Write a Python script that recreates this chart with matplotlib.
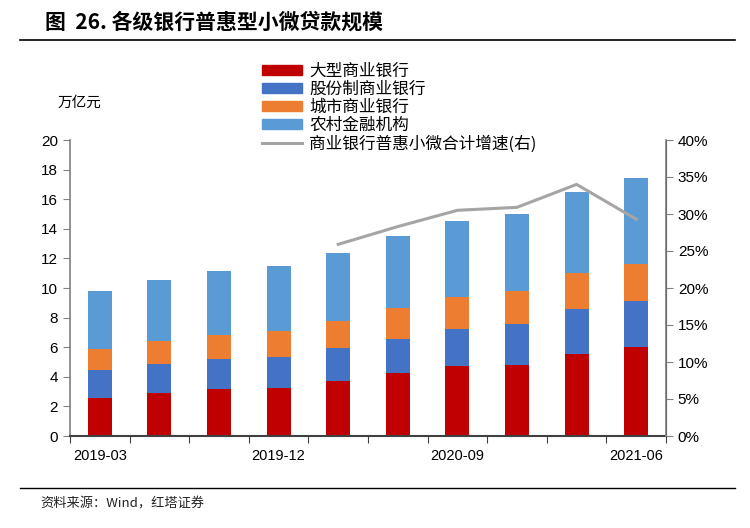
import matplotlib
matplotlib.use("Agg")
import matplotlib.pyplot as plt
import numpy as np
from matplotlib.patches import Patch
from matplotlib.lines import Line2D

plt.rcParams['font.family'] = ['Liberation Sans', 'Noto Sans CJK SC', 'DejaVu Sans']

quarters = ['2019-03', '2019-06', '2019-09', '2019-12', '2020-03', '2020-06',
            '2020-09', '2020-12', '2021-03', '2021-06']
big = [2.57, 2.91, 3.18, 3.24, 3.72, 4.26, 4.71, 4.82, 5.54, 5.99]
joint = [1.89, 1.95, 2.00, 2.10, 2.20, 2.32, 2.50, 2.73, 3.02, 3.11]
city = [1.42, 1.56, 1.67, 1.78, 1.87, 2.05, 2.18, 2.27, 2.45, 2.52]
rural = [3.94, 4.12, 4.30, 4.37, 4.57, 4.88, 5.11, 5.18, 5.50, 5.79]
growth = [None, None, None, None, 25.9, 28.3, 30.5, 30.9, 34.0, 29.3]
labels = ['大型商业银行', '股份制商业银行', '城市商业银行', '农村金融机构',
          '商业银行普惠小微合计增速(右)']
shown_ticks = ['2019-03', '2019-12', '2020-09', '2021-06']

colors = ['#C00000', '#4472C4', '#ED7D31', '#5B9BD5']
line_color = '#A5A5A5'

fig = plt.figure(figsize=(7.5, 5.28), dpi=100)
ax = fig.add_axes([70/750, 1-436/528, (666-70)/750, (436-140)/528])
ax2 = ax.twinx()

x = np.arange(len(quarters))
bottom = np.zeros(len(quarters))
for vals, c in zip([big, joint, city, rural], colors):
    ax.bar(x, vals, width=0.4, bottom=bottom, color=c, zorder=2)
    bottom += np.array(vals)

gx = [i for i, g in enumerate(growth) if g is not None]
gy = [g for g in growth if g is not None]
ax2.plot(gx, gy, color=line_color, linewidth=2.2, zorder=3)

ax.set_xlim(-0.5, len(quarters) - 0.5)
ax.set_ylim(0, 20)
ax.set_yticks(np.arange(0, 21, 2))
ax2.set_ylim(0, 40)
ax2.set_yticks(np.arange(0, 41, 5))
ax2.set_yticklabels([f'{v}%' for v in range(0, 41, 5)])

ax.set_xticks(np.arange(-0.5, len(quarters), 1))
ax.set_xticklabels([])
ax.set_xticks([quarters.index(q) for q in shown_ticks], minor=True)
ax.set_xticklabels(shown_ticks, minor=True)
ax.tick_params(axis='x', which='minor', length=0, pad=9, labelsize=10.5)
ax.tick_params(axis='x', which='major', length=5, direction='out', color='#404040')
ax.tick_params(axis='y', length=5, direction='out', labelsize=11, color='#808080')
ax2.tick_params(axis='y', length=5, direction='out', labelsize=11, color='#808080')

for a in (ax, ax2):
    a.spines['top'].set_visible(False)
ax.spines['left'].set_color('#808080')
ax.spines['bottom'].set_color('#404040')
ax.spines['bottom'].set_linewidth(1.5)
ax2.spines['right'].set_color('#808080')
ax2.spines['right'].set_linewidth(1.2)
ax.spines['left'].set_linewidth(1.2)
ax2.spines['left'].set_visible(False)
ax2.spines['bottom'].set_visible(False)

handles = [Patch(color=c) for c in colors] + [Line2D([0], [0], color=line_color, lw=2.2)]
fig.legend(handles, labels, loc='upper left', bbox_to_anchor=(262/750, 1-63/528),
           frameon=False, prop={'family': ['Noto Sans CJK SC'], 'size': 12},
           handlelength=2.4, handleheight=0.55, handletextpad=0.45, labelspacing=0.06,
           borderaxespad=0, borderpad=0)

fig.text(58/750, 1-103/528, '万亿元', fontsize=10.5, family=['Noto Sans CJK SC'], va='center')

fig.text(45/750, 1-22/528, '图  26. 各级银行普惠型小微贷款规模', fontsize=15, fontweight='bold',
         family=['Noto Sans CJK SC'], va='center')
fig.add_artist(Line2D([20/750, 735/750], [1-40/528, 1-40/528], color='black', lw=1.2))
fig.add_artist(Line2D([20/750, 735/750], [1-488/528, 1-488/528], color='black', lw=1.0))
fig.text(40/750, 1-504/528, '资料来源：Wind，红塔证券', fontsize=9.5,
         family=['Noto Sans CJK SC', 'DejaVu Sans'], va='center', color='#222222')

fig.savefig('out.png', dpi=100)
